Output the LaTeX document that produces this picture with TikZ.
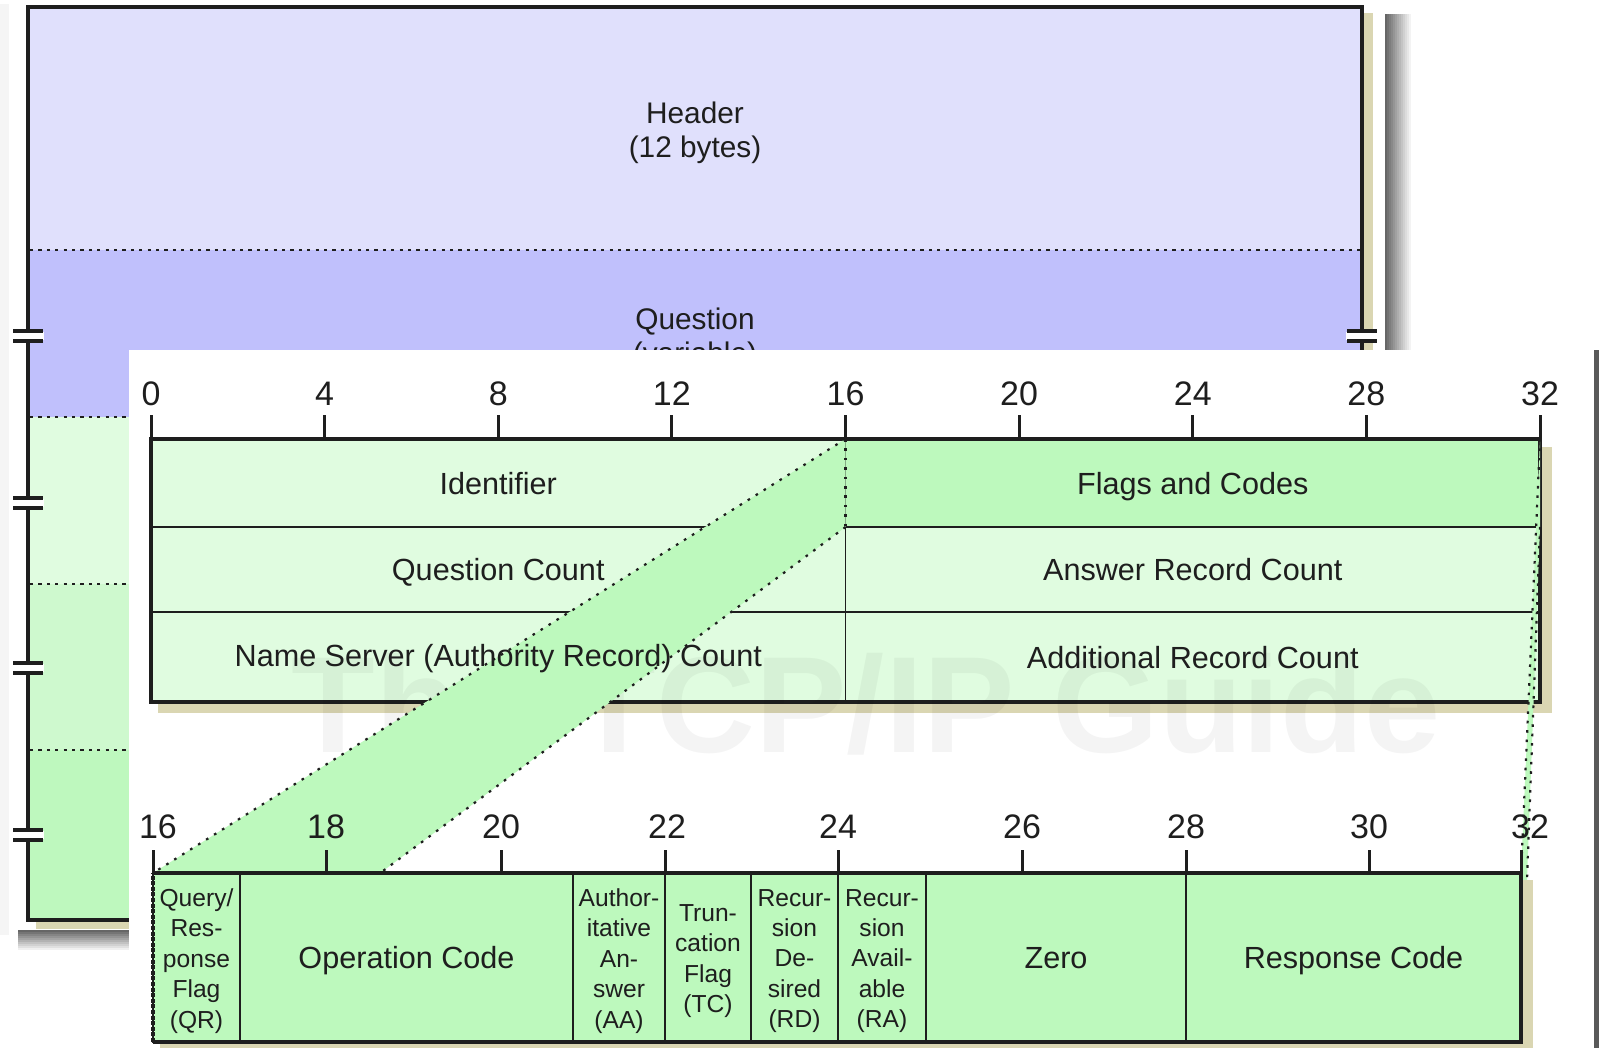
\documentclass[tikz,border=0pt]{standalone}
\usepackage{fontspec}
\setmainfont{Liberation Sans}
\definecolor{hdrblue}{HTML}{E0E0FC}
\definecolor{qblue}{HTML}{C0C0FC}
\definecolor{anfill}{HTML}{E0FCE0}
\definecolor{nsfill}{HTML}{CEF9CE}
\definecolor{arfill}{HTML}{BEF8BE}
\definecolor{palegreen}{HTML}{E0FCE0}
\definecolor{flaggreen}{HTML}{BDF9BD}
\definecolor{beige}{HTML}{DAD6B2}
\definecolor{ink}{HTML}{1E1E1E}

% a field cell given by its name, corners (x1,y1) (x2,y2) in pixel units, and fill colour
\newcommand\fieldcell[6]{%
  \node[cell, fill=#6, minimum width={(#4-#2)*0.5pt}, minimum height={(#5-#3)*0.5pt}] (#1) at (#2,#3) {};}

\begin{document}
\begin{tikzpicture}[x=0.5pt,y=-0.5pt,
  cell/.style={draw=ink, line width=0.75pt, inner sep=0pt, outer sep=0pt, anchor=north west},
  frameline/.style={draw=ink, line width=1.6pt},
  tickline/.style={draw=ink, line width=1.5pt},
  sepdots/.style={draw=ink, line width=1pt, dash pattern=on 1.6pt off 2.6pt},
  facedots/.style={draw=ink, line width=1.1pt, dash pattern=on 1.3pt off 3.4pt},
  bitnum/.style={font=\fontsize{17}{20}\selectfont, text=ink, inner sep=0pt},
  fieldtext/.style={font=\fontsize{15.3}{18}\selectfont, text=ink, inner sep=0pt,
                    text height=11.1pt, text depth=0pt},
  smalltext/.style={font=\fontsize{12.3}{15.2}\selectfont, text=ink, inner sep=0pt,
                    align=center, yshift=-1.7pt},
  backtext/.style={font=\fontsize{14.9}{17}\selectfont, text=ink, inner sep=0pt, align=center},
  wmark/.style={font=\fontsize{68.5}{70}\selectfont\bfseries, text=black, text opacity=0.045, inner sep=0pt},
]
\useasboundingbox (0,0) rectangle (1599,1048);
\fill[white] (0,0) rectangle (1599,1048);

% ---------- rear sheet: whole DNS message ----------
\fill[black!4] (0,4) rectangle (9,935);
\foreach \i [evaluate=\i as \op using {0.6*(1-\i/13)}] in {0,...,12}
  \fill[black, opacity=\op] (1385+2*\i,14) rectangle (1387+2*\i,360);
\foreach \i [evaluate=\i as \op using {0.6*(1-\i/10)}] in {0,...,9}
  \fill[black, opacity=\op] (18,930+2*\i) rectangle (140,932+2*\i);
\fill[white] (9,0) rectangle (1385,930);

\fill[hdrblue] (28,7) rectangle (1362,250);
\fill[qblue]   (28,250) rectangle (1362,417);
\fill[anfill]  (28,417) rectangle (1362,584);
\fill[nsfill]  (28,584) rectangle (1362,750);
\fill[arfill]  (28,750) rectangle (1362,920);
\fill[beige] (1362,13) rectangle (1373,929);
\fill[beige] (36,920) rectangle (1373,929);
\foreach \y in {250,417,584,750}
  \draw[sepdots] (30,\y) -- (1360,\y);
\draw[frameline] (28,7) rectangle (1362,920);

% break marks for variable-length sections
\foreach \y in {336,503,668,835} {
  \fill[white] (12,\y-4) rectangle (44,\y+4);
  \draw[ink, line width=1.8pt] (13,\y-5) -- (43,\y-5) (13,\y+5) -- (43,\y+5);
}
\fill[white] (1346,332) rectangle (1378,340);
\draw[ink, line width=1.8pt] (1347,331) -- (1377,331) (1347,341) -- (1377,341);

\node[backtext] (hdr) at (695,133) {Header\\(12 bytes)};
\node[backtext] (qst) at (695,339) {Question\\(variable)};

% ---------- front sheet: header detail ----------
\fill[black!65] (1594,350) rectangle (1599,1048);
\fill[white] (129,350) rectangle (1594,1048);

% corners of the flags breakdown row
\coordinate (low-nw) at (153,873);
\coordinate (low-sw) at (153,1042);
\coordinate (low-ne) at (1521,873);
\coordinate (low-se) at (1521,1042);

% header words
\fill[beige] (1540,447) rectangle (1552,713);
\fill[beige] (158,702) rectangle (1552,713);
\fieldcell{ident}{151}{439}{845.5}{527}{palegreen}
\fieldcell{flags}{845.5}{439}{1540}{527}{flaggreen}
\fieldcell{qdcount}{151}{527}{845.5}{612}{palegreen}
\fieldcell{ancount}{845.5}{527}{1540}{612}{palegreen}
\fieldcell{nscount}{151}{612}{845.5}{702}{palegreen}
\fieldcell{arcount}{845.5}{612}{1540}{702}{palegreen}
\draw[frameline] (ident.north west) rectangle (arcount.south east);
\foreach \k in {0,4,...,32} {
  \draw[tickline] ({151+\k*43.406},415) -- ({151+\k*43.406},439);
  \node[bitnum] (top-\k) at ({151+\k*43.406},394) {\k};
}

\node[wmark, anchor=base west] (wm) at (291,752) {The TCP/IP Guide};

% projection of the flags field onto its breakdown
\fill[flaggreen] (flags.north west) -- (flags.south west) -- (low-sw) -- (low-nw) -- cycle;
\fill[flaggreen] (flags.north east) -- (flags.south east) -- (low-se) -- (low-ne) -- cycle;
\draw[facedots] (flags.north west) -- (low-nw);
\draw[facedots] (flags.south west) -- (low-sw);
\draw[facedots] (flags.north west) -- (flags.south west);
\draw[facedots] (flags.north east) -- (low-ne);
\draw[facedots] (flags.south east) -- (low-se);

\node[fieldtext] (t-ident) at (ident.center) {Identifier};
\node[fieldtext] (t-flags) at (flags.center) {Flags and Codes};
\node[fieldtext] (t-qd) at (qdcount.center) {Question Count};
\node[fieldtext] (t-an) at (ancount.center) {Answer Record Count};
\node[fieldtext] (t-ns) at ([yshift=1pt]nscount.center) {Name Server (Authority Record) Count};
\node[fieldtext] (t-ar) at (arcount.center) {Additional Record Count};

% flags and codes breakdown
\fill[beige] (1521,880) rectangle (1533,1048);
\fill[beige] (160,1042) rectangle (1533,1048);
\fieldcell{qr}{153}{873}{240}{1042}{flaggreen}
\fieldcell{opcode}{240}{873}{573}{1042}{flaggreen}
\fieldcell{aa}{573}{873}{665}{1042}{flaggreen}
\fieldcell{tc}{665}{873}{751}{1042}{flaggreen}
\fieldcell{rd}{751}{873}{838}{1042}{flaggreen}
\fieldcell{ra}{838}{873}{926}{1042}{flaggreen}
\fieldcell{zero}{926}{873}{1186}{1042}{flaggreen}
\fieldcell{rcode}{1186}{873}{1521}{1042}{flaggreen}
\draw[frameline] (qr.north west) -- (rcode.north east) -- (rcode.south east) -- (qr.south west);
\draw[frameline, dash pattern=on 2pt off 0.8pt] (qr.south west) -- (qr.north west);
\foreach \x/\n/\lx in {153/16/158, 326/18/326, 501/20/501, 665/22/667, 838/24/838,
                       1022/26/1022, 1186/28/1186, 1369/30/1369, 1521/32/1530} {
  \draw[tickline] (\x,850) -- (\x,873);
  \node[bitnum] (low-\n) at (\lx,827) {\n};
}

\node[smalltext] (t-qr) at (qr.center) {Query/\\Res-\\ponse\\Flag\\(QR)};
\node[fieldtext] (t-op) at (opcode.center) {Operation Code};
\node[smalltext] (t-aa) at (aa.center) {Author-\\itative\\An-\\swer\\(AA)};
\node[smalltext] (t-tc) at (tc.center) {Trun-\\cation\\Flag\\(TC)};
\node[smalltext] (t-rd) at (rd.center) {Recur-\\sion\\De-\\sired\\(RD)};
\node[smalltext] (t-ra) at (ra.center) {Recur-\\sion\\Avail-\\able\\(RA)};
\node[fieldtext] (t-zero) at (zero.center) {Zero};
\node[fieldtext] (t-rc) at (rcode.center) {Response Code};
\end{tikzpicture}
\end{document}
